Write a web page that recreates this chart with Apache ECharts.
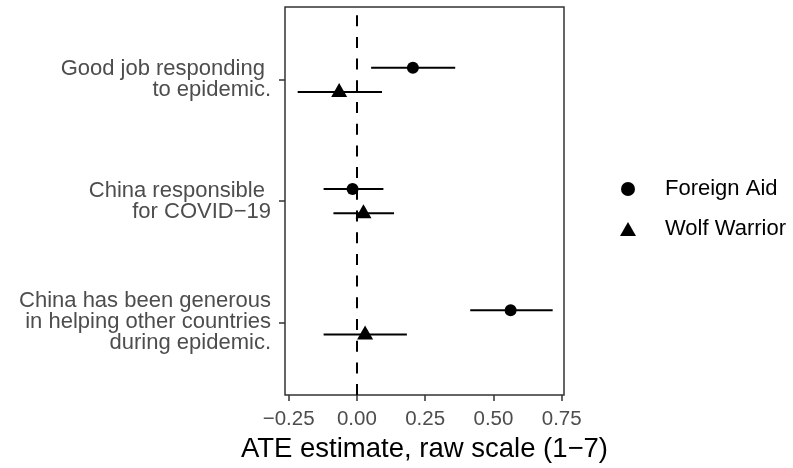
<!DOCTYPE html>
<html>
<head>
<meta charset="utf-8">
<script src="https://cdn.jsdelivr.net/npm/echarts@6/dist/echarts.min.js"></script>
<style>html,body{margin:0;padding:0;background:#fff;}#c{width:793px;height:468px;}</style>
</head>
<body>
<div id="c"></div>
<script>
// Data
var categories = ['Good job responding \nto epidemic.', 'China responsible \nfor COVID\u221219', 'China has been generous\nin helping other countries\nduring epidemic.'];
var seriesNames = ['Foreign Aid', 'Wolf Warrior'];
var aidEst = [0.205, -0.016, 0.563];
var aidLo  = [0.052, -0.122, 0.415];
var aidHi  = [0.360, 0.097, 0.717];
var wolfEst = [-0.065, 0.024, 0.030];
var wolfLo  = [-0.217, -0.086, -0.122];
var wolfHi  = [0.092, 0.136, 0.183];
var xTicks = [-0.25, 0, 0.25, 0.5, 0.75];
var yTicks = [1, 2, 3];
var dodge = 0.1;

var FONT = 'Liberation Sans';
function ciData(lo, hi, off) {
  return lo.map(function (l, i) { return [l, hi[i], i + 1 + off]; });
}
function ptData(est, off) {
  return est.map(function (e, i) { return [e, i + 1 + off]; });
}
function renderCI(params, api) {
  var p1 = api.coord([api.value(0), api.value(2)]);
  var p2 = api.coord([api.value(1), api.value(2)]);
  return { type: 'line', shape: { x1: p1[0], y1: p1[1], x2: p2[0], y2: p2[1] },
    style: { stroke: '#000', lineWidth: 2 } };
}
function fmt(v) {
  var s = Math.abs(v).toFixed(2);
  return v < 0 ? '\u2212' + s : s;
}

var chart = echarts.init(document.getElementById('c'), null, { renderer: 'canvas' });
chart.setOption({
  animation: false,
  backgroundColor: '#fff',
  grid: { left: 285, top: 7, right: 229, bottom: 71, show: true, borderColor: '#333', borderWidth: 1.5, backgroundColor: 'transparent' },
  xAxis: {
    type: 'value', min: -0.2634, max: 0.7585,
    name: 'ATE estimate, raw scale (1\u22127)', nameLocation: 'middle', nameGap: 39,
    nameTextStyle: { fontFamily: FONT, fontSize: 27.5, color: '#000' },
    axisLine: { show: false, onZero: false },
    axisTick: { show: true, customValues: xTicks, length: 6, lineStyle: { color: '#333', width: 1.5 } },
    axisLabel: { customValues: xTicks, formatter: fmt, margin: 14, fontFamily: FONT, fontSize: 20.5, color: '#4D4D4D' },
    splitLine: { show: false }
  },
  yAxis: {
    type: 'value', inverse: true, min: 0.4, max: 3.6,
    axisLine: { show: false, onZero: false },
    axisTick: { show: true, customValues: yTicks, length: 6, lineStyle: { color: '#333', width: 1.5 } },
    axisLabel: { customValues: yTicks, formatter: function (v) { return categories[Math.round(v) - 1]; },
      margin: 14, fontFamily: FONT, fontSize: 22, lineHeight: 21, color: '#4D4D4D', align: 'right' },
    splitLine: { show: false }
  },
  legend: {
    data: seriesNames, orient: 'vertical', left: 620, top: 178, padding: 0,
    itemWidth: 16, itemHeight: 14, itemGap: 18,
    textStyle: { fontFamily: FONT, fontSize: 22, color: '#000', padding: [0, 0, 0, 24] }
  },
  series: [
    { type: 'custom', name: 'aidCI', renderItem: renderCI, data: ciData(aidLo, aidHi, -dodge), encode: { x: [0, 1], y: 2 }, z: 2, silent: true },
    { type: 'custom', name: 'wolfCI', renderItem: renderCI, data: ciData(wolfLo, wolfHi, dodge), encode: { x: [0, 1], y: 2 }, z: 2, silent: true },
    { type: 'scatter', name: seriesNames[0], symbol: 'circle', symbolSize: 12, itemStyle: { color: '#000', opacity: 1 }, data: ptData(aidEst, -dodge), z: 3,
      markLine: { silent: true, symbol: 'none', label: { show: false },
        lineStyle: { color: '#000', width: 2, type: [11, 10.7], opacity: 1 },
        data: [[{ coord: [0, 3.6] }, { coord: [0, 0.4] }]] } },
    { type: 'scatter', name: seriesNames[1], symbol: 'triangle', symbolSize: [16, 14], symbolOffset: [0, -2], itemStyle: { color: '#000', opacity: 1 }, data: ptData(wolfEst, dodge), z: 3 }
  ]
});
</script>
</body>
</html>
